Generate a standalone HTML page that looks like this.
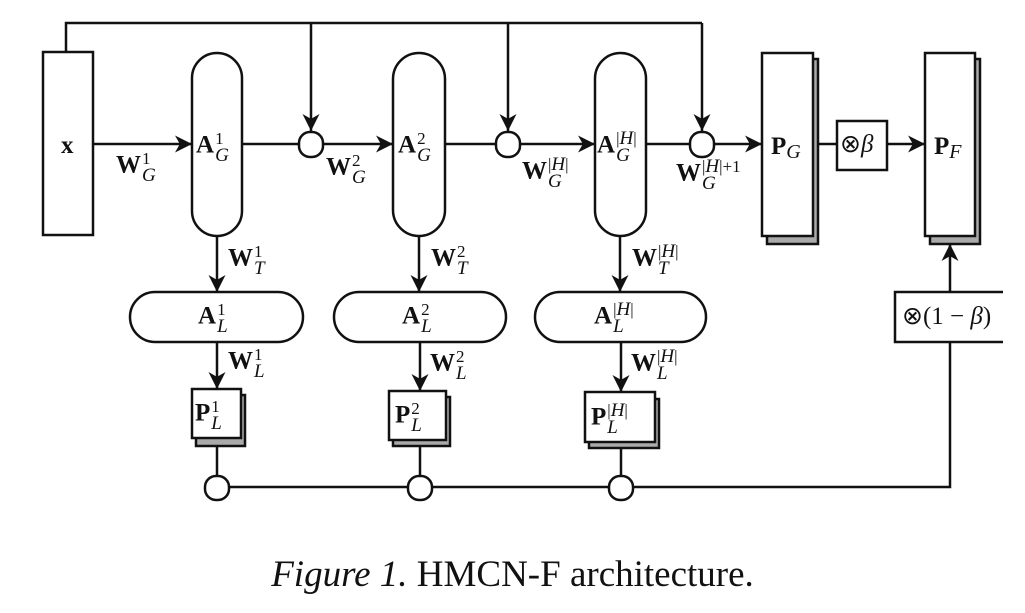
<!DOCTYPE html>
<html><head><meta charset="utf-8"><style>
body{margin:0;width:1025px;height:613px;background:#fff;position:relative;overflow:hidden;font-family:"Liberation Serif",serif;}
svg{position:absolute;left:0;top:0}
.l{position:absolute;font-size:25px;font-weight:bold;white-space:nowrap;line-height:25px;color:#111}
.s{display:inline-block;vertical-align:middle;font-size:17px;font-weight:normal;line-height:17px;margin-left:1px;text-align:left}
.s i{font-size:19px}
.cap{position:absolute;left:0;width:1025px;top:553px;text-align:center;font-size:37px;color:#111}
</style></head><body>
<svg width="1025" height="613" viewBox="0 0 1025 613">
<defs>
<marker id="b" viewBox="0 0 14 14" refX="14" refY="7" markerWidth="17" markerHeight="17" markerUnits="userSpaceOnUse" orient="auto"><path d="M0,0 L14,7 L0,14 L4,7 z" fill="#111"/></marker></defs>
<g stroke="#111" stroke-width="2.5" fill="none">
<polyline points="66,52 66,23 702,23"/>
<line x1="311" y1="23" x2="311" y2="131" marker-end="url(#b)"/>
<line x1="508" y1="23" x2="508" y2="131" marker-end="url(#b)"/>
<line x1="702" y1="23" x2="702" y2="131" marker-end="url(#b)"/>
<rect x="43" y="52" width="50" height="183" fill="#fff"/>
<line x1="93" y1="144" x2="192" y2="144" marker-end="url(#b)"/>
<line x1="242" y1="144" x2="299" y2="144"/>
<line x1="323" y1="144" x2="393" y2="144" marker-end="url(#b)"/>
<line x1="445" y1="144" x2="496" y2="144"/>
<line x1="520" y1="144" x2="595" y2="144" marker-end="url(#b)"/>
<line x1="646" y1="144" x2="690" y2="144"/>
<line x1="714" y1="144" x2="762" y2="144" marker-end="url(#b)"/>
<line x1="813" y1="144" x2="837" y2="144"/>
<line x1="887" y1="144" x2="925" y2="144" marker-end="url(#b)"/>
<rect x="192" y="53" width="50" height="183" rx="25" fill="#fff"/>
<rect x="393" y="53" width="52" height="183" rx="26" fill="#fff"/>
<rect x="595" y="53" width="51" height="183" rx="25.5" fill="#fff"/>
<rect x="299" y="132" width="24" height="25" rx="11" fill="#fff"/>
<rect x="496" y="132" width="24" height="25" rx="11" fill="#fff"/>
<rect x="690" y="132" width="24" height="25" rx="11" fill="#fff"/>
<rect x="767" y="59" width="51" height="185" fill="#aaa"/>
<rect x="762" y="53" width="51" height="183" fill="#fff"/>
<rect x="930" y="59" width="50" height="185" fill="#aaa"/>
<rect x="925" y="53" width="50" height="183" fill="#fff"/>
<rect x="837" y="121" width="50" height="49" fill="#fff"/>
<line x1="217" y1="236" x2="217" y2="292" marker-end="url(#b)"/>
<line x1="419" y1="236" x2="419" y2="292" marker-end="url(#b)"/>
<line x1="620" y1="236" x2="620" y2="292" marker-end="url(#b)"/>
<rect x="130" y="292" width="173" height="50" rx="25" fill="#fff"/>
<rect x="334" y="292" width="172" height="50" rx="25" fill="#fff"/>
<rect x="535" y="292" width="171" height="50" rx="25" fill="#fff"/>
<line x1="217" y1="342" x2="217" y2="389" marker-end="url(#b)"/>
<line x1="420" y1="342" x2="420" y2="391" marker-end="url(#b)"/>
<line x1="621" y1="342" x2="621" y2="392" marker-end="url(#b)"/>
<rect x="196" y="395" width="49" height="51" fill="#aaa"/>
<rect x="192" y="389" width="49" height="49" fill="#fff"/>
<rect x="393" y="397" width="57" height="49" fill="#aaa"/>
<rect x="389" y="391" width="57" height="49" fill="#fff"/>
<rect x="589" y="399" width="70" height="49" fill="#aaa"/>
<rect x="585" y="392" width="70" height="50" fill="#fff"/>
<line x1="217" y1="446" x2="217" y2="476"/>
<line x1="420" y1="446" x2="420" y2="476"/>
<line x1="621" y1="448" x2="621" y2="476"/>
<polyline points="229,487 950,487 950,244" marker-end="url(#b)"/>
<rect x="205" y="476" width="24" height="24" rx="11" fill="#fff"/>
<rect x="408" y="476" width="24" height="24" rx="11" fill="#fff"/>
<rect x="609" y="476" width="24" height="24" rx="11" fill="#fff"/>
<polyline points="1003,292 895,292 895,342 1003,342" fill="#fff"/>
</g>
</svg>
<div class="l" style="left:61px;top:133px">x</div>
<div class="l" style="left:116px;top:150px">W<span class="s">1<br><i>G</i></span></div>
<div class="l" style="left:196px;top:130px">A<span class="s">1<br><i>G</i></span></div>
<div class="l" style="left:326px;top:152px">W<span class="s">2<br><i>G</i></span></div>
<div class="l" style="left:398px;top:130px">A<span class="s">2<br><i>G</i></span></div>
<div class="l" style="left:522px;top:156px">W<span class="s">|<i>H</i>|<br><i>G</i></span></div>
<div class="l" style="left:597px;top:130px">A<span class="s">|<i>H</i>|<br><i>G</i></span></div>
<div class="l" style="left:676px;top:158px">W<span class="s">|<i>H</i>|+1<br><i>G</i></span></div>
<div class="l" style="left:771px;top:134px">P<span style="font-weight:normal;font-style:italic;font-size:20px;vertical-align:-4px">G</span></div>
<div class="l" style="left:840px;top:132px;font-weight:normal;font-size:25px">⊗<i>β</i></div>
<div class="l" style="left:934px;top:134px">P<span style="font-weight:normal;font-style:italic;font-size:20px;vertical-align:-4px">F</span></div>
<div class="l" style="left:228px;top:243px">W<span class="s">1<br><i>T</i></span></div>
<div class="l" style="left:431px;top:243px">W<span class="s">2<br><i>T</i></span></div>
<div class="l" style="left:632px;top:243px">W<span class="s">|<i>H</i>|<br><i>T</i></span></div>
<div class="l" style="left:198px;top:301px">A<span class="s">1<br><i>L</i></span></div>
<div class="l" style="left:402px;top:301px">A<span class="s">2<br><i>L</i></span></div>
<div class="l" style="left:594px;top:301px">A<span class="s">|<i>H</i>|<br><i>L</i></span></div>
<div class="l" style="left:228px;top:346px">W<span class="s">1<br><i>L</i></span></div>
<div class="l" style="left:430px;top:348px">W<span class="s">2<br><i>L</i></span></div>
<div class="l" style="left:631px;top:348px">W<span class="s">|<i>H</i>|<br><i>L</i></span></div>
<div class="l" style="left:195px;top:398px">P<span class="s">1<br><i>L</i></span></div>
<div class="l" style="left:395px;top:400px">P<span class="s">2<br><i>L</i></span></div>
<div class="l" style="left:591px;top:402px">P<span class="s">|<i>H</i>|<br><i>L</i></span></div>
<div class="l" style="left:902px;top:304px;font-weight:normal;font-size:25px">⊗(1 − <i>β</i>)</div>
<div class="cap"><i>Figure 1.</i> HMCN-F architecture.</div>
</body></html>
